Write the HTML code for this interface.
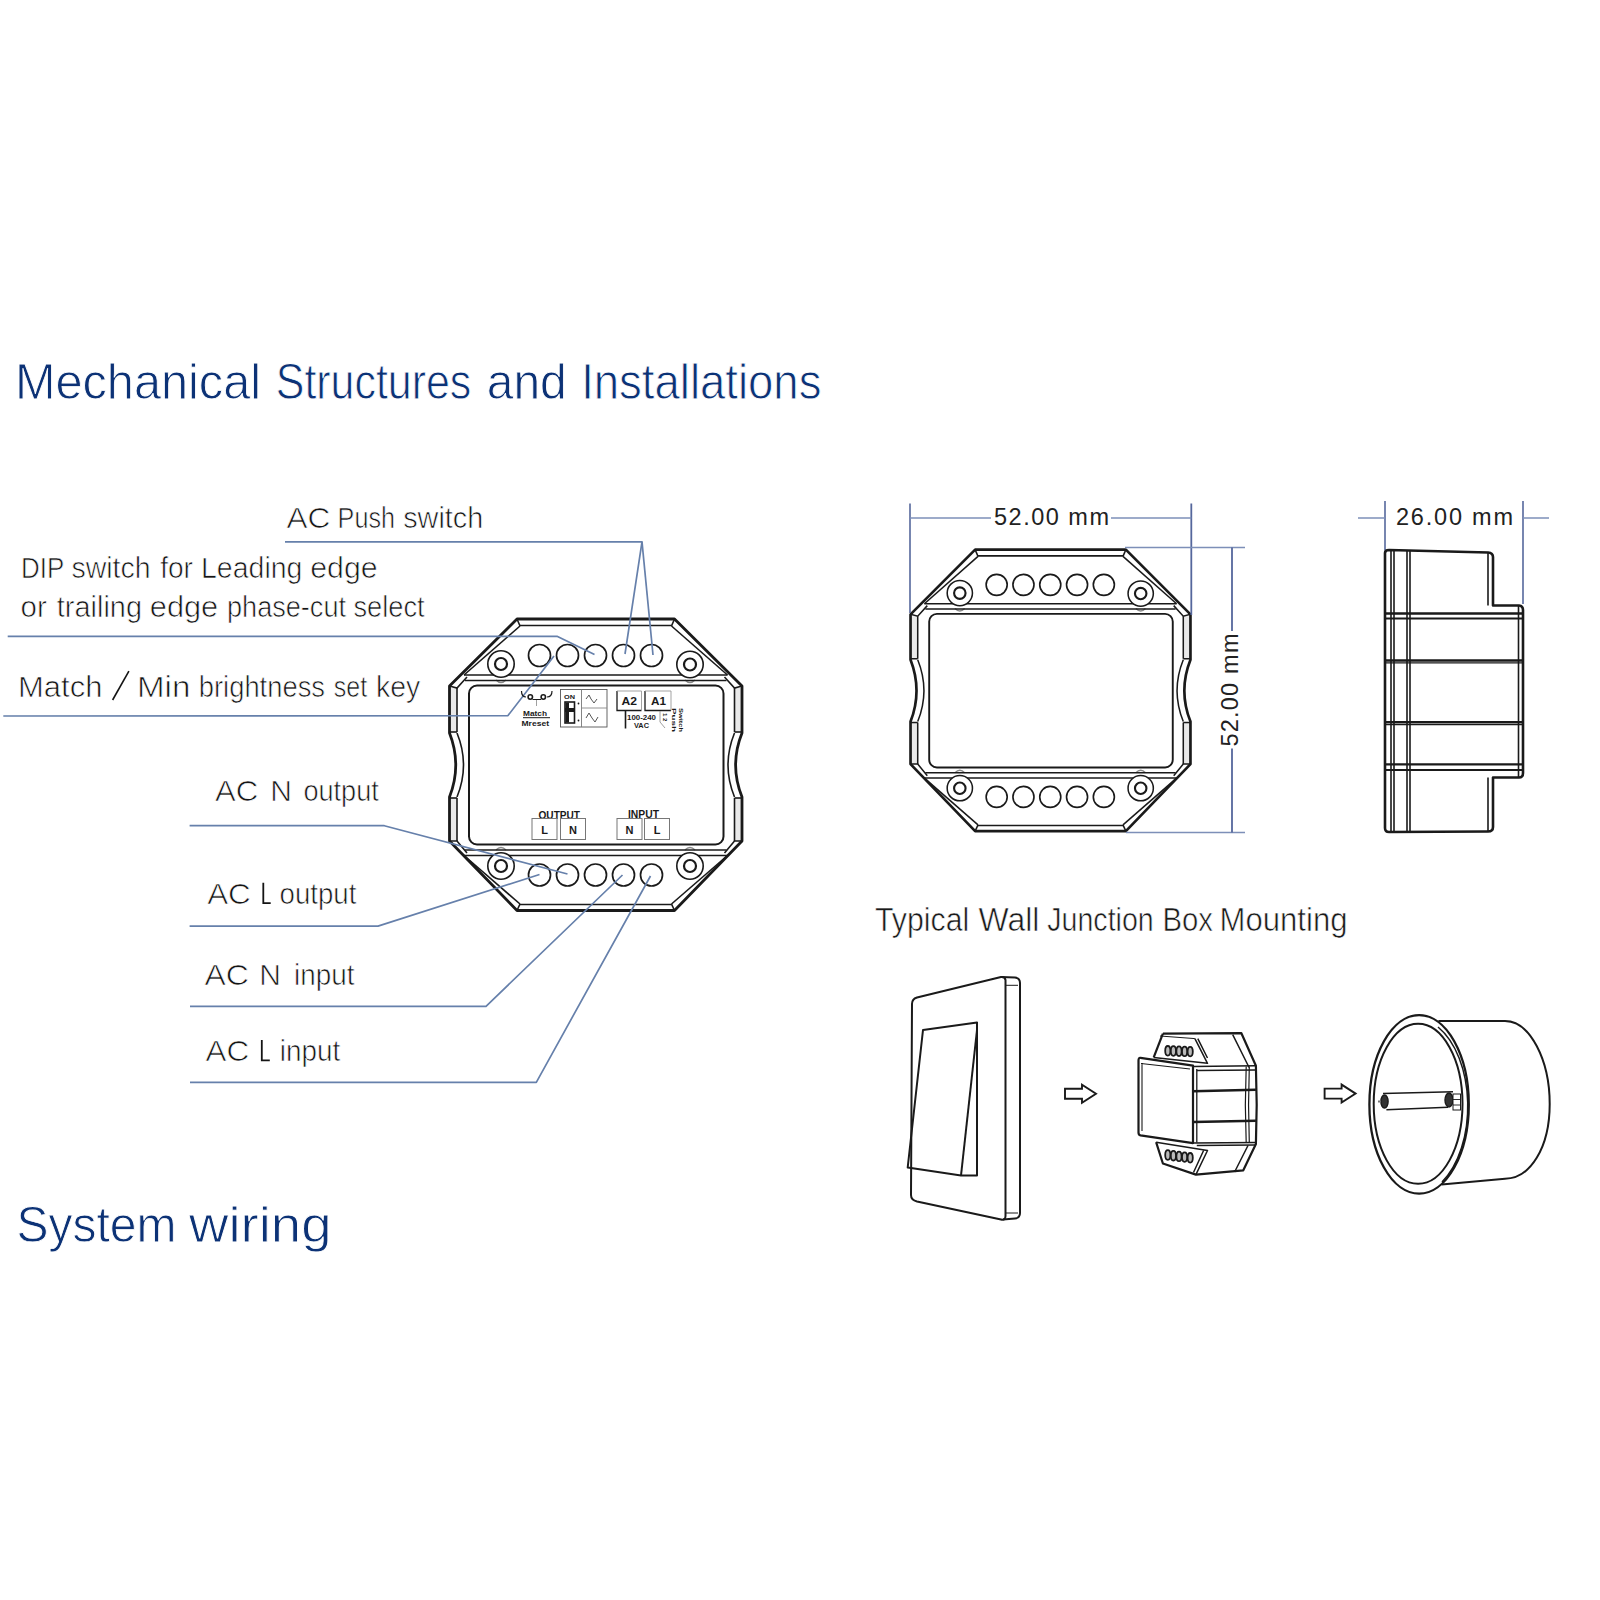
<!DOCTYPE html><html><head><meta charset="utf-8"><style>html,body{margin:0;padding:0;background:#fff;}svg{display:block;font-family:"Liberation Sans",sans-serif;}</style></head><body>
<svg width="1600" height="1600" viewBox="0 0 1600 1600">
<rect width="1600" height="1600" fill="#fff"/>
<text x="14.9" y="398.6" font-size="50" fill="#0c3276" font-weight="normal" textLength="246.2" lengthAdjust="spacingAndGlyphs" stroke="#fff" stroke-width="0.9">Mechanical</text>
<text x="275.8" y="398.6" font-size="50" fill="#0c3276" font-weight="normal" textLength="195.5" lengthAdjust="spacingAndGlyphs" stroke="#fff" stroke-width="0.9">Structures</text>
<text x="486.8" y="398.6" font-size="50" fill="#0c3276" font-weight="normal" textLength="79.9" lengthAdjust="spacingAndGlyphs" stroke="#fff" stroke-width="0.9">and</text>
<text x="581.2" y="398.6" font-size="50" fill="#0c3276" font-weight="normal" textLength="240.2" lengthAdjust="spacingAndGlyphs" stroke="#fff" stroke-width="0.9">Installations</text>
<text x="16.5" y="1242" font-size="50" fill="#0c3276" font-weight="normal" textLength="160" lengthAdjust="spacingAndGlyphs" stroke="#fff" stroke-width="0.9">System</text>
<text x="189" y="1242" font-size="50" fill="#0c3276" font-weight="normal" textLength="142.5" lengthAdjust="spacingAndGlyphs" stroke="#fff" stroke-width="0.9">wiring</text>
<text x="286.6" y="527.6" font-size="30" fill="#141414" font-weight="normal" textLength="43.8" lengthAdjust="spacingAndGlyphs" stroke="#fff" stroke-width="0.7">AC</text>
<text x="337.6" y="527.6" font-size="30" fill="#141414" font-weight="normal" textLength="57.4" lengthAdjust="spacingAndGlyphs" stroke="#fff" stroke-width="0.7">Push</text>
<text x="403.2" y="527.6" font-size="30" fill="#141414" font-weight="normal" textLength="80" lengthAdjust="spacingAndGlyphs" stroke="#fff" stroke-width="0.7">switch</text>
<text x="21" y="578.3" font-size="30" fill="#141414" font-weight="normal" textLength="43.2" lengthAdjust="spacingAndGlyphs" stroke="#fff" stroke-width="0.7">DIP</text>
<text x="71.4" y="578.3" font-size="30" fill="#141414" font-weight="normal" textLength="79.2" lengthAdjust="spacingAndGlyphs" stroke="#fff" stroke-width="0.7">switch</text>
<text x="160.2" y="578.3" font-size="30" fill="#141414" font-weight="normal" textLength="32.8" lengthAdjust="spacingAndGlyphs" stroke="#fff" stroke-width="0.7">for</text>
<text x="201" y="578.3" font-size="30" fill="#141414" font-weight="normal" textLength="101.4" lengthAdjust="spacingAndGlyphs" stroke="#fff" stroke-width="0.7">Leading</text>
<text x="310.2" y="578.3" font-size="30" fill="#141414" font-weight="normal" textLength="67.4" lengthAdjust="spacingAndGlyphs" stroke="#fff" stroke-width="0.7">edge</text>
<text x="20.6" y="617.3" font-size="30" fill="#141414" font-weight="normal" textLength="26.2" lengthAdjust="spacingAndGlyphs" stroke="#fff" stroke-width="0.7">or</text>
<text x="56.8" y="617.3" font-size="30" fill="#141414" font-weight="normal" textLength="85.2" lengthAdjust="spacingAndGlyphs" stroke="#fff" stroke-width="0.7">trailing</text>
<text x="149.8" y="617.3" font-size="30" fill="#141414" font-weight="normal" textLength="68.4" lengthAdjust="spacingAndGlyphs" stroke="#fff" stroke-width="0.7">edge</text>
<text x="227" y="617.3" font-size="30" fill="#141414" font-weight="normal" textLength="119" lengthAdjust="spacingAndGlyphs" stroke="#fff" stroke-width="0.7">phase-cut</text>
<text x="353.4" y="617.3" font-size="30" fill="#141414" font-weight="normal" textLength="71.2" lengthAdjust="spacingAndGlyphs" stroke="#fff" stroke-width="0.7">select</text>
<text x="18" y="696.5" font-size="30" fill="#141414" font-weight="normal" textLength="84.4" lengthAdjust="spacingAndGlyphs" stroke="#fff" stroke-width="0.7">Match</text>
<line x1="112.6" y1="700" x2="128.9" y2="671.2" stroke="#141414" stroke-width="1.6"/>
<text x="137" y="696.5" font-size="30" fill="#141414" font-weight="normal" textLength="53.4" lengthAdjust="spacingAndGlyphs" stroke="#fff" stroke-width="0.7">Min</text>
<text x="198.8" y="696.5" font-size="30" fill="#141414" font-weight="normal" textLength="126.2" lengthAdjust="spacingAndGlyphs" stroke="#fff" stroke-width="0.7">brightness</text>
<text x="333.8" y="696.5" font-size="30" fill="#141414" font-weight="normal" textLength="33.4" lengthAdjust="spacingAndGlyphs" stroke="#fff" stroke-width="0.7">set</text>
<text x="376" y="696.5" font-size="30" fill="#141414" font-weight="normal" textLength="44.2" lengthAdjust="spacingAndGlyphs" stroke="#fff" stroke-width="0.7">key</text>
<text x="215" y="801" font-size="30" fill="#141414" font-weight="normal" textLength="43.2" lengthAdjust="spacingAndGlyphs" stroke="#fff" stroke-width="0.7">AC</text>
<text x="281" y="801" font-size="30" fill="#141414" font-weight="normal" text-anchor="middle" stroke="#fff" stroke-width="0.7">N</text>
<text x="303.4" y="801" font-size="30" fill="#141414" font-weight="normal" textLength="75.4" lengthAdjust="spacingAndGlyphs" stroke="#fff" stroke-width="0.7">output</text>
<text x="207.2" y="904" font-size="30" fill="#141414" font-weight="normal" textLength="43.6" lengthAdjust="spacingAndGlyphs" stroke="#fff" stroke-width="0.7">AC</text>
<path d="M263.3 882.8 V903.1 H270.7" fill="none" stroke="#141414" stroke-width="1.8"/>
<text x="279.6" y="904" font-size="30" fill="#141414" font-weight="normal" textLength="76.8" lengthAdjust="spacingAndGlyphs" stroke="#fff" stroke-width="0.7">output</text>
<text x="204.4" y="984.8" font-size="30" fill="#141414" font-weight="normal" textLength="44.4" lengthAdjust="spacingAndGlyphs" stroke="#fff" stroke-width="0.7">AC</text>
<text x="270.1" y="984.8" font-size="30" fill="#141414" font-weight="normal" text-anchor="middle" stroke="#fff" stroke-width="0.7">N</text>
<text x="294" y="984.8" font-size="30" fill="#141414" font-weight="normal" textLength="60.4" lengthAdjust="spacingAndGlyphs" stroke="#fff" stroke-width="0.7">input</text>
<text x="205.6" y="1061.2" font-size="30" fill="#141414" font-weight="normal" textLength="43.6" lengthAdjust="spacingAndGlyphs" stroke="#fff" stroke-width="0.7">AC</text>
<path d="M261.8 1040 V1060.3 H269.8" fill="none" stroke="#141414" stroke-width="1.8"/>
<text x="279.8" y="1061.2" font-size="30" fill="#141414" font-weight="normal" textLength="60.4" lengthAdjust="spacingAndGlyphs" stroke="#fff" stroke-width="0.7">input</text>
<rect x="449.5" y="688" width="7.5" height="44" fill="#e9e9e9"/>
<rect x="449.5" y="798" width="7.5" height="43" fill="#e9e9e9"/>
<rect x="734.5" y="688" width="7.5" height="44" fill="#e9e9e9"/>
<rect x="734.5" y="798" width="7.5" height="43" fill="#e9e9e9"/>
<path d="M496 680Q501 685 506 680" fill="none" stroke="#888" stroke-width="1.6"/>
<path d="M685 680Q690 685 695 680" fill="none" stroke="#888" stroke-width="1.6"/>
<path d="M496 850Q501 845 506 850" fill="none" stroke="#888" stroke-width="1.6"/>
<path d="M685 850Q690 845 695 850" fill="none" stroke="#888" stroke-width="1.6"/>
<path d="M517 619L674.5 619L742 686L742 733Q729.2 765 742 797L742 841L674.5 910.5L517 910.5L449.5 841L449.5 797Q462 765 449.5 733L449.5 686Z" fill="none" stroke="#1a1a1a" stroke-width="2.8" stroke-linejoin="round"/>
<polyline points="520,625.5 671.5,625.5" fill="none" stroke="#1a1a1a" stroke-width="1.6"/>
<polyline points="520,904.5 671.5,904.5" fill="none" stroke="#1a1a1a" stroke-width="1.6"/>
<polyline points="520,626 464,675" fill="none" stroke="#1a1a1a" stroke-width="1.6"/>
<polyline points="671.5,626 727.5,675" fill="none" stroke="#1a1a1a" stroke-width="1.6"/>
<polyline points="520,904 464,855.5" fill="none" stroke="#1a1a1a" stroke-width="1.6"/>
<polyline points="671.5,904 727.5,855.5" fill="none" stroke="#1a1a1a" stroke-width="1.6"/>
<polyline points="449.5,686 457,688 467,677" fill="none" stroke="#1a1a1a" stroke-width="1.6"/>
<polyline points="742,686 734.5,688 724.5,677" fill="none" stroke="#1a1a1a" stroke-width="1.6"/>
<polyline points="449.5,841 457,841 467,853" fill="none" stroke="#1a1a1a" stroke-width="1.6"/>
<polyline points="742,841 734.5,841 724.5,853" fill="none" stroke="#1a1a1a" stroke-width="1.6"/>
<polyline points="517,619 520,626" fill="none" stroke="#1a1a1a" stroke-width="1.6"/>
<polyline points="674.5,619 671.5,626" fill="none" stroke="#1a1a1a" stroke-width="1.6"/>
<polyline points="517,910.5 520,904" fill="none" stroke="#1a1a1a" stroke-width="1.6"/>
<polyline points="674.5,910.5 671.5,904" fill="none" stroke="#1a1a1a" stroke-width="1.6"/>
<polyline points="457,688 457,732" fill="none" stroke="#1a1a1a" stroke-width="1.6"/>
<polyline points="457,798 457,841" fill="none" stroke="#1a1a1a" stroke-width="1.6"/>
<polyline points="734.5,688 734.5,732" fill="none" stroke="#1a1a1a" stroke-width="1.6"/>
<polyline points="734.5,798 734.5,841" fill="none" stroke="#1a1a1a" stroke-width="1.6"/>
<polyline points="449.5,732 457,732" fill="none" stroke="#1a1a1a" stroke-width="1.6"/>
<polyline points="449.5,798 457,798" fill="none" stroke="#1a1a1a" stroke-width="1.6"/>
<polyline points="742,732 734.5,732" fill="none" stroke="#1a1a1a" stroke-width="1.6"/>
<polyline points="742,798 734.5,798" fill="none" stroke="#1a1a1a" stroke-width="1.6"/>
<polyline points="464,675 727.5,675" fill="none" stroke="#1a1a1a" stroke-width="1.6"/>
<polyline points="465,680.5 726.5,680.5" fill="none" stroke="#1a1a1a" stroke-width="1.6"/>
<polyline points="464,855.5 727.5,855.5" fill="none" stroke="#1a1a1a" stroke-width="1.6"/>
<polyline points="465,850 726.5,850" fill="none" stroke="#1a1a1a" stroke-width="1.6"/>
<path d="M457 733Q470 765 457 797" fill="none" stroke="#1a1a1a" stroke-width="1.6"/>
<path d="M734.5 733Q721.5 765 734.5 797" fill="none" stroke="#1a1a1a" stroke-width="1.6"/>
<rect x="469" y="685.5" width="254.5" height="159" rx="8" fill="none" stroke="#1a1a1a" stroke-width="2"/>
<circle cx="501" cy="664" r="13.2" fill="#fff" stroke="#1a1a1a" stroke-width="1.6"/>
<circle cx="501" cy="664" r="6" fill="none" stroke="#1a1a1a" stroke-width="2.2"/>
<circle cx="690" cy="664.5" r="13.2" fill="#fff" stroke="#1a1a1a" stroke-width="1.6"/>
<circle cx="690" cy="664.5" r="6" fill="none" stroke="#1a1a1a" stroke-width="2.2"/>
<circle cx="501" cy="866" r="13.2" fill="#fff" stroke="#1a1a1a" stroke-width="1.6"/>
<circle cx="501" cy="866" r="6" fill="none" stroke="#1a1a1a" stroke-width="2.2"/>
<circle cx="690" cy="866" r="13.2" fill="#fff" stroke="#1a1a1a" stroke-width="1.6"/>
<circle cx="690" cy="866" r="6" fill="none" stroke="#1a1a1a" stroke-width="2.2"/>
<circle cx="539.5" cy="655.5" r="11" fill="none" stroke="#1a1a1a" stroke-width="1.7"/>
<circle cx="567.5" cy="655.5" r="11" fill="none" stroke="#1a1a1a" stroke-width="1.7"/>
<circle cx="595.5" cy="655.5" r="11" fill="none" stroke="#1a1a1a" stroke-width="1.7"/>
<circle cx="623.5" cy="655.5" r="11" fill="none" stroke="#1a1a1a" stroke-width="1.7"/>
<circle cx="651.5" cy="655.5" r="11" fill="none" stroke="#1a1a1a" stroke-width="1.7"/>
<circle cx="539.5" cy="875" r="11" fill="none" stroke="#1a1a1a" stroke-width="1.7"/>
<circle cx="567.5" cy="875" r="11" fill="none" stroke="#1a1a1a" stroke-width="1.7"/>
<circle cx="595.5" cy="875" r="11" fill="none" stroke="#1a1a1a" stroke-width="1.7"/>
<circle cx="623.5" cy="875" r="11" fill="none" stroke="#1a1a1a" stroke-width="1.7"/>
<circle cx="651.5" cy="875" r="11" fill="none" stroke="#1a1a1a" stroke-width="1.7"/>
<polyline points="285,541.8 642,541.8 625,654" fill="none" stroke="#6680ab" stroke-width="1.7" stroke-linejoin="round"/>
<polyline points="642,541.8 653,655" fill="none" stroke="#6680ab" stroke-width="1.7" stroke-linejoin="round"/>
<polyline points="7.7,636.3 557,636.3 594.5,654.5" fill="none" stroke="#6680ab" stroke-width="1.7" stroke-linejoin="round"/>
<polyline points="3.3,716 508,715.6 554,656" fill="none" stroke="#6680ab" stroke-width="1.7" stroke-linejoin="round"/>
<polyline points="189.6,825.7 384.3,825.7 567.5,874" fill="none" stroke="#6680ab" stroke-width="1.7" stroke-linejoin="round"/>
<polyline points="189.6,926.1 378,926.1 539.5,874.5" fill="none" stroke="#6680ab" stroke-width="1.7" stroke-linejoin="round"/>
<polyline points="190,1006.3 486,1006.3 622.5,875" fill="none" stroke="#6680ab" stroke-width="1.7" stroke-linejoin="round"/>
<polyline points="190,1082.3 536.3,1082.3 650.5,876" fill="none" stroke="#6680ab" stroke-width="1.7" stroke-linejoin="round"/>
<rect x="910.54" y="616.26" width="7.18" height="42.5" fill="#e9e9e9"/>
<rect x="910.54" y="722.52" width="7.18" height="41.54" fill="#e9e9e9"/>
<rect x="1183.28" y="616.26" width="7.18" height="42.5" fill="#e9e9e9"/>
<rect x="1183.28" y="722.52" width="7.18" height="41.54" fill="#e9e9e9"/>
<path d="M955.04 608.53Q959.82 613.36 964.61 608.53" fill="none" stroke="#888" stroke-width="1.53"/>
<path d="M1135.91 608.53Q1140.7 613.36 1145.48 608.53" fill="none" stroke="#888" stroke-width="1.53"/>
<path d="M955.04 772.75Q959.82 767.92 964.61 772.75" fill="none" stroke="#888" stroke-width="1.53"/>
<path d="M1135.91 772.75Q1140.7 767.92 1145.48 772.75" fill="none" stroke="#888" stroke-width="1.53"/>
<path d="M975.14 549.61L1125.86 549.61L1190.46 614.33L1190.46 659.73Q1178.21 690.64 1190.46 721.55L1190.46 764.06L1125.86 831.19L975.14 831.19L910.54 764.06L910.54 721.55Q922.5 690.64 910.54 659.73L910.54 614.33Z" fill="none" stroke="#1a1a1a" stroke-width="2.68" stroke-linejoin="round"/>
<polyline points="978.01,555.88 1122.99,555.88" fill="none" stroke="#1a1a1a" stroke-width="1.53"/>
<polyline points="978.01,825.4 1122.99,825.4" fill="none" stroke="#1a1a1a" stroke-width="1.53"/>
<polyline points="978.01,556.37 924.42,603.7" fill="none" stroke="#1a1a1a" stroke-width="1.53"/>
<polyline points="1122.99,556.37 1176.58,603.7" fill="none" stroke="#1a1a1a" stroke-width="1.53"/>
<polyline points="978.01,824.92 924.42,778.06" fill="none" stroke="#1a1a1a" stroke-width="1.53"/>
<polyline points="1122.99,824.92 1176.58,778.06" fill="none" stroke="#1a1a1a" stroke-width="1.53"/>
<polyline points="910.54,614.33 917.72,616.26 927.29,605.63" fill="none" stroke="#1a1a1a" stroke-width="1.53"/>
<polyline points="1190.46,614.33 1183.28,616.26 1173.71,605.63" fill="none" stroke="#1a1a1a" stroke-width="1.53"/>
<polyline points="910.54,764.06 917.72,764.06 927.29,775.65" fill="none" stroke="#1a1a1a" stroke-width="1.53"/>
<polyline points="1190.46,764.06 1183.28,764.06 1173.71,775.65" fill="none" stroke="#1a1a1a" stroke-width="1.53"/>
<polyline points="975.14,549.61 978.01,556.37" fill="none" stroke="#1a1a1a" stroke-width="1.53"/>
<polyline points="1125.86,549.61 1122.99,556.37" fill="none" stroke="#1a1a1a" stroke-width="1.53"/>
<polyline points="975.14,831.19 978.01,824.92" fill="none" stroke="#1a1a1a" stroke-width="1.53"/>
<polyline points="1125.86,831.19 1122.99,824.92" fill="none" stroke="#1a1a1a" stroke-width="1.53"/>
<polyline points="917.72,616.26 917.72,658.76" fill="none" stroke="#1a1a1a" stroke-width="1.53"/>
<polyline points="917.72,722.52 917.72,764.06" fill="none" stroke="#1a1a1a" stroke-width="1.53"/>
<polyline points="1183.28,616.26 1183.28,658.76" fill="none" stroke="#1a1a1a" stroke-width="1.53"/>
<polyline points="1183.28,722.52 1183.28,764.06" fill="none" stroke="#1a1a1a" stroke-width="1.53"/>
<polyline points="910.54,658.76 917.72,658.76" fill="none" stroke="#1a1a1a" stroke-width="1.53"/>
<polyline points="910.54,722.52 917.72,722.52" fill="none" stroke="#1a1a1a" stroke-width="1.53"/>
<polyline points="1190.46,658.76 1183.28,658.76" fill="none" stroke="#1a1a1a" stroke-width="1.53"/>
<polyline points="1190.46,722.52 1183.28,722.52" fill="none" stroke="#1a1a1a" stroke-width="1.53"/>
<polyline points="924.42,603.7 1176.58,603.7" fill="none" stroke="#1a1a1a" stroke-width="1.53"/>
<polyline points="925.37,609.01 1175.63,609.01" fill="none" stroke="#1a1a1a" stroke-width="1.53"/>
<polyline points="924.42,778.06 1176.58,778.06" fill="none" stroke="#1a1a1a" stroke-width="1.53"/>
<polyline points="925.37,772.75 1175.63,772.75" fill="none" stroke="#1a1a1a" stroke-width="1.53"/>
<path d="M917.72 659.73Q930.16 690.64 917.72 721.55" fill="none" stroke="#1a1a1a" stroke-width="1.53"/>
<path d="M1183.28 659.73Q1170.84 690.64 1183.28 721.55" fill="none" stroke="#1a1a1a" stroke-width="1.53"/>
<rect x="929.2" y="613.84" width="243.56" height="153.59" rx="7.66" fill="none" stroke="#1a1a1a" stroke-width="1.91"/>
<circle cx="959.82" cy="593.08" r="12.63" fill="#fff" stroke="#1a1a1a" stroke-width="1.53"/>
<circle cx="959.82" cy="593.08" r="5.74" fill="none" stroke="#1a1a1a" stroke-width="2.11"/>
<circle cx="1140.7" cy="593.56" r="12.63" fill="#fff" stroke="#1a1a1a" stroke-width="1.53"/>
<circle cx="1140.7" cy="593.56" r="5.74" fill="none" stroke="#1a1a1a" stroke-width="2.11"/>
<circle cx="959.82" cy="788.21" r="12.63" fill="#fff" stroke="#1a1a1a" stroke-width="1.53"/>
<circle cx="959.82" cy="788.21" r="5.74" fill="none" stroke="#1a1a1a" stroke-width="2.11"/>
<circle cx="1140.7" cy="788.21" r="12.63" fill="#fff" stroke="#1a1a1a" stroke-width="1.53"/>
<circle cx="1140.7" cy="788.21" r="5.74" fill="none" stroke="#1a1a1a" stroke-width="2.11"/>
<circle cx="996.67" cy="584.86" r="10.53" fill="none" stroke="#1a1a1a" stroke-width="1.63"/>
<circle cx="1023.46" cy="584.86" r="10.53" fill="none" stroke="#1a1a1a" stroke-width="1.63"/>
<circle cx="1050.26" cy="584.86" r="10.53" fill="none" stroke="#1a1a1a" stroke-width="1.63"/>
<circle cx="1077.06" cy="584.86" r="10.53" fill="none" stroke="#1a1a1a" stroke-width="1.63"/>
<circle cx="1103.85" cy="584.86" r="10.53" fill="none" stroke="#1a1a1a" stroke-width="1.63"/>
<circle cx="996.67" cy="796.9" r="10.53" fill="none" stroke="#1a1a1a" stroke-width="1.63"/>
<circle cx="1023.46" cy="796.9" r="10.53" fill="none" stroke="#1a1a1a" stroke-width="1.63"/>
<circle cx="1050.26" cy="796.9" r="10.53" fill="none" stroke="#1a1a1a" stroke-width="1.63"/>
<circle cx="1077.06" cy="796.9" r="10.53" fill="none" stroke="#1a1a1a" stroke-width="1.63"/>
<circle cx="1103.85" cy="796.9" r="10.53" fill="none" stroke="#1a1a1a" stroke-width="1.63"/>
<line x1="910" y1="503.5" x2="910" y2="613" stroke="#55679c" stroke-width="1.6"/>
<line x1="1191.3" y1="503.5" x2="1191.3" y2="615" stroke="#55679c" stroke-width="1.8"/>
<line x1="910" y1="518" x2="991" y2="518" stroke="#7d8fb8" stroke-width="1.5"/>
<line x1="1111" y1="518" x2="1191.3" y2="518" stroke="#7d8fb8" stroke-width="1.5"/>
<text x="994" y="524.5" font-size="23.5" fill="#222" font-weight="normal" textLength="115" lengthAdjust="spacing" >52.00 mm</text>
<line x1="1125" y1="547.5" x2="1245" y2="547.5" stroke="#7d8fb8" stroke-width="1.5"/>
<line x1="1126" y1="832.5" x2="1245" y2="832.5" stroke="#7d8fb8" stroke-width="1.5"/>
<line x1="1232" y1="547.5" x2="1232" y2="631" stroke="#55679c" stroke-width="1.8"/>
<line x1="1232" y1="748.5" x2="1232" y2="832.5" stroke="#55679c" stroke-width="1.8"/>
<text x="0" y="0" font-size="23.5" fill="#222" textLength="113" lengthAdjust="spacing" transform="translate(1237.5,746.5) rotate(-90)">52.00 mm</text>
<line x1="1385" y1="501" x2="1385" y2="550.5" stroke="#55679c" stroke-width="1.6"/>
<line x1="1523" y1="501" x2="1523" y2="604" stroke="#55679c" stroke-width="1.6"/>
<line x1="1358" y1="518" x2="1385" y2="518" stroke="#7d8fb8" stroke-width="1.5"/>
<line x1="1523" y1="518" x2="1549" y2="518" stroke="#7d8fb8" stroke-width="1.5"/>
<text x="1396" y="524.5" font-size="23.5" fill="#222" font-weight="normal" textLength="117" lengthAdjust="spacing" >26.00 mm</text>
<path d="M1385 553 Q1385 550 1389 550 L1488 552.5 Q1493 553 1493 557 L1493 605.5 L1519 605.5 Q1523 606 1523 610 L1523 773 Q1523 777.5 1519 777.5 L1493 777.5 L1493 827 Q1493 831.5 1488 831.5 L1389 832 Q1385 832 1385 828 Z" fill="none" stroke="#1a1a1a" stroke-width="2.6" stroke-linejoin="round"/>
<line x1="1391" y1="551" x2="1391" y2="831" stroke="#1a1a1a" stroke-width="1.6"/>
<line x1="1394" y1="551" x2="1394" y2="831" stroke="#1a1a1a" stroke-width="1.6"/>
<line x1="1407" y1="551" x2="1407" y2="831" stroke="#1a1a1a" stroke-width="1.6"/>
<line x1="1410" y1="551" x2="1410" y2="831" stroke="#1a1a1a" stroke-width="1.6"/>
<line x1="1488" y1="553" x2="1488" y2="605.5" stroke="#1a1a1a" stroke-width="1.6"/>
<line x1="1488" y1="777.5" x2="1488" y2="831" stroke="#1a1a1a" stroke-width="1.6"/>
<line x1="1518.5" y1="606" x2="1518.5" y2="777" stroke="#1a1a1a" stroke-width="1.6"/>
<line x1="1385" y1="613.5" x2="1523" y2="613.5" stroke="#1a1a1a" stroke-width="2.4"/>
<line x1="1385" y1="618.5" x2="1523" y2="618.5" stroke="#1a1a1a" stroke-width="1.8"/>
<line x1="1385" y1="660.5" x2="1523" y2="660.5" stroke="#1a1a1a" stroke-width="2.4"/>
<line x1="1385" y1="662.8" x2="1523" y2="662.8" stroke="#1a1a1a" stroke-width="1.2"/>
<line x1="1385" y1="722.3" x2="1523" y2="722.3" stroke="#1a1a1a" stroke-width="2.4"/>
<line x1="1385" y1="724.7" x2="1523" y2="724.7" stroke="#1a1a1a" stroke-width="1.2"/>
<line x1="1385" y1="764.3" x2="1523" y2="764.3" stroke="#1a1a1a" stroke-width="2.2"/>
<line x1="1385" y1="770" x2="1523" y2="770" stroke="#1a1a1a" stroke-width="2.0"/>
<text x="875" y="930.5" font-size="33" fill="#1a1a1a" font-weight="normal" textLength="94.25" lengthAdjust="spacingAndGlyphs" stroke="#fff" stroke-width="0.6">Typical</text>
<text x="978.4" y="930.5" font-size="33" fill="#1a1a1a" font-weight="normal" textLength="61" lengthAdjust="spacingAndGlyphs" stroke="#fff" stroke-width="0.6">Wall</text>
<text x="1047.25" y="930.5" font-size="33" fill="#1a1a1a" font-weight="normal" textLength="106.5" lengthAdjust="spacingAndGlyphs" stroke="#fff" stroke-width="0.6">Junction</text>
<text x="1162.5" y="930.5" font-size="33" fill="#1a1a1a" font-weight="normal" textLength="50.5" lengthAdjust="spacingAndGlyphs" stroke="#fff" stroke-width="0.6">Box</text>
<text x="1219.5" y="930.5" font-size="33" fill="#1a1a1a" font-weight="normal" textLength="128" lengthAdjust="spacingAndGlyphs" stroke="#fff" stroke-width="0.6">Mounting</text>
<path d="M912 1004 Q912 999 917 997.5 L1001 977 Q1005 976.5 1005.5 980 L1005.5 1216 Q1005.5 1220.5 1001 1219.5 L917 1201.5 Q911 1200 911 1195 Z" fill="none" stroke="#1a1a1a" stroke-width="2.0" stroke-linejoin="round"/>
<path d="M1001 977 L1015 977.5 Q1020 978 1020 983 L1020 1213 Q1020 1218 1015 1218.5 L1003 1219.5" fill="none" stroke="#1a1a1a" stroke-width="2.0"/>
<line x1="1006" y1="985.3" x2="1018" y2="985.3" stroke="#1a1a1a" stroke-width="1.0"/>
<line x1="1006" y1="1213" x2="1018" y2="1213" stroke="#1a1a1a" stroke-width="1.0"/>
<path d="M923 1030 L977 1022.5 L977 1175.5 L961 1175.5 L907.7 1167.5 Z" fill="none" stroke="#1a1a1a" stroke-width="2.0" stroke-linejoin="round"/>
<path d="M977 1030 L961 1175.5" fill="none" stroke="#1a1a1a" stroke-width="2.0"/>
<path d="M1065 1088.7 L1082 1088.7 L1082 1084.7 L1096 1093.7 L1082 1102.7 L1082 1098.7 L1065 1098.7 Z" fill="#fff" stroke="#1a1a1a" stroke-width="1.9" stroke-linejoin="miter"/>
<path d="M1324.6 1088.6 L1341.6 1088.6 L1341.6 1084.6 L1355.6 1093.6 L1341.6 1102.6 L1341.6 1098.6 L1324.6 1098.6 Z" fill="#fff" stroke="#1a1a1a" stroke-width="1.9" stroke-linejoin="miter"/>
<path d="M1162.9 1033.7 L1241.4 1033.2 L1255.9 1065.7 Q1257.5 1105 1255.9 1144.1 L1243.3 1170.3 L1195.9 1174.6 L1162.9 1163.5 L1156.1 1142.2" fill="none" stroke="#1a1a1a" stroke-width="2.2" stroke-linejoin="round"/>
<path d="M1153.7 1057.4 L1162.9 1033.7" fill="none" stroke="#1a1a1a" stroke-width="2.2"/>
<path d="M1153.7 1057.4 L1207.5 1063.3 L1194.9 1038.6 M1197.8 1038.6 L1207.5 1058" fill="none" stroke="#1a1a1a" stroke-width="1.5" stroke-linejoin="round"/>
<path d="M1160 1036 L1194.9 1038.6" fill="none" stroke="#1a1a1a" stroke-width="1.0"/>
<path d="M1140.5 1057.8 L1193 1065.7 L1193 1143.1 L1140.5 1135.4 Q1138.5 1135 1138.5 1132.5 L1138.5 1060.5 Q1138.5 1057.5 1140.5 1057.8 Z" fill="#fff" stroke="#1a1a1a" stroke-width="2.2" stroke-linejoin="round"/>
<path d="M1141 1063.5 L1190 1069 M1142 1063 L1142 1131" fill="none" stroke="#1a1a1a" stroke-width="1.1"/>
<path d="M1196.8 1069 L1196.8 1142.5" fill="none" stroke="#1a1a1a" stroke-width="1.3"/>
<path d="M1193 1066.6 L1255.9 1065.7 M1196.8 1070.5 L1255 1070" fill="none" stroke="#1a1a1a" stroke-width="1.5"/>
<path d="M1193 1091.3 L1255.9 1089.8 M1193 1122 L1255.9 1120.8" fill="none" stroke="#1a1a1a" stroke-width="2.4"/>
<path d="M1193 1143.1 L1255.9 1142.4 M1196.8 1145.5 L1255 1145" fill="none" stroke="#1a1a1a" stroke-width="1.5"/>
<path d="M1246.2 1066.5 Q1244.5 1105 1246.2 1143 M1249.3 1066.5 Q1247.8 1105 1249.3 1143" fill="none" stroke="#1a1a1a" stroke-width="1.2"/>
<path d="M1232.7 1034.7 L1249.1 1067.5 M1234.6 1172 L1248 1145.5" fill="none" stroke="#1a1a1a" stroke-width="1.5"/>
<path d="M1156.1 1142.2 L1207.5 1150.5 L1195.9 1174.6 M1203.8 1150 L1193.5 1172.5" fill="none" stroke="#1a1a1a" stroke-width="1.5" stroke-linejoin="round"/>
<ellipse cx="1167.8" cy="1050.8" rx="2.6" ry="4.8" fill="#bbb" stroke="#1a1a1a" stroke-width="1.8"/>
<ellipse cx="1167.8" cy="1155" rx="2.6" ry="4.8" fill="#bbb" stroke="#1a1a1a" stroke-width="1.8"/>
<ellipse cx="1173.4" cy="1051" rx="2.6" ry="4.8" fill="#bbb" stroke="#1a1a1a" stroke-width="1.8"/>
<ellipse cx="1173.4" cy="1155.7" rx="2.6" ry="4.8" fill="#bbb" stroke="#1a1a1a" stroke-width="1.8"/>
<ellipse cx="1179" cy="1051.2" rx="2.6" ry="4.8" fill="#bbb" stroke="#1a1a1a" stroke-width="1.8"/>
<ellipse cx="1179" cy="1156.4" rx="2.6" ry="4.8" fill="#bbb" stroke="#1a1a1a" stroke-width="1.8"/>
<ellipse cx="1184.6" cy="1051.4" rx="2.6" ry="4.8" fill="#bbb" stroke="#1a1a1a" stroke-width="1.8"/>
<ellipse cx="1184.6" cy="1157.1" rx="2.6" ry="4.8" fill="#bbb" stroke="#1a1a1a" stroke-width="1.8"/>
<ellipse cx="1190.2" cy="1051.6" rx="2.6" ry="4.8" fill="#bbb" stroke="#1a1a1a" stroke-width="1.8"/>
<ellipse cx="1190.2" cy="1157.8" rx="2.6" ry="4.8" fill="#bbb" stroke="#1a1a1a" stroke-width="1.8"/>
<path d="M1438.4 1021.1 L1505 1021.1 C1530 1021.1 1549.7 1060 1549.7 1104 C1549.7 1148 1530 1178.7 1505 1178.7 L1441.6 1184.4" fill="none" stroke="#1a1a1a" stroke-width="2.0"/>
<ellipse cx="1419.1" cy="1104.4" rx="49.7" ry="89.3" fill="#fff" stroke="#1a1a1a" stroke-width="2.3"/>
<ellipse cx="1418.1" cy="1103.8" rx="44.4" ry="80" fill="none" stroke="#1a1a1a" stroke-width="2.0"/>
<path d="M1438 1027 A53.5 88.5 0 0 1 1442 1182" fill="none" stroke="#1a1a1a" stroke-width="1.5"/>
<path d="M1383 1093.4 L1453 1091.8 M1386.4 1109.7 L1448 1107.2" fill="none" stroke="#1a1a1a" stroke-width="1.5"/>
<ellipse cx="1384.5" cy="1101.5" rx="3.6" ry="6.5" fill="#333" stroke="#1a1a1a" stroke-width="1.4"/>
<ellipse cx="1449" cy="1100" rx="4" ry="7" fill="#333" stroke="#1a1a1a" stroke-width="1.4"/>
<path d="M1378 1101.5 L1381 1101.5" fill="none" stroke="#777" stroke-width="2"/>
<rect x="1453" y="1094" width="7.5" height="16" fill="#fff" stroke="#1a1a1a" stroke-width="1.0"/>
<path d="M1453 1099.5 L1460.5 1099.5 M1453 1105 L1460.5 1105" fill="none" stroke="#1a1a1a" stroke-width="0.9"/>
<path d="M521.5 691 Q521.5 697 526 697 M547 697 Q552 697 552 691" fill="none" stroke="#1a1a1a" stroke-width="1.2"/>
<circle cx="530.3" cy="697" r="2.2" fill="none" stroke="#1a1a1a" stroke-width="1.6"/>
<circle cx="543.3" cy="697" r="2.2" fill="none" stroke="#1a1a1a" stroke-width="1.6"/>
<line x1="532.5" y1="699.5" x2="541" y2="699.5" stroke="#1a1a1a" stroke-width="1.0"/>
<line x1="536.5" y1="700" x2="536.5" y2="706" stroke="#888" stroke-width="0.8"/>
<text x="523" y="715.5" font-size="7.5" fill="#1a1a1a" font-weight="bold" textLength="24" lengthAdjust="spacingAndGlyphs" >Match</text>
<line x1="523" y1="717.7" x2="550" y2="717.7" stroke="#1a1a1a" stroke-width="1.0"/>
<text x="521.5" y="725.5" font-size="7.5" fill="#1a1a1a" font-weight="bold" textLength="27.5" lengthAdjust="spacingAndGlyphs" >Mreset</text>
<rect x="560.5" y="689.5" width="46.5" height="37.5" fill="none" stroke="#555" stroke-width="0.9"/>
<line x1="581.5" y1="689.5" x2="581.5" y2="727" stroke="#777" stroke-width="0.9"/>
<line x1="581.5" y1="708" x2="607" y2="708" stroke="#888" stroke-width="0.9"/>
<text x="564" y="698.5" font-size="6" fill="#1a1a1a" font-weight="bold" textLength="11" lengthAdjust="spacingAndGlyphs" >ON</text>
<rect x="565" y="702" width="9.5" height="21" fill="none" stroke="#1a1a1a" stroke-width="1.6"/>
<rect x="565.5" y="702.5" width="3.5" height="20" fill="#1a1a1a"/>
<rect x="565" y="708" width="9" height="4" fill="#1a1a1a"/>
<circle cx="578.5" cy="703.5" r="0.9" fill="#1a1a1a"/><circle cx="578.5" cy="720.5" r="0.9" fill="#1a1a1a"/>
<path d="M586 699 L589 695 L591 699 L594 703 L597 699" fill="none" stroke="#555" stroke-width="1.0"/>
<path d="M586 718 L589 713 L592 718 L595 722 L598 717" fill="none" stroke="#555" stroke-width="1.0"/>
<path d="M617 691 L617 710.5 L641.5 710.5" fill="none" stroke="#1a1a1a" stroke-width="1.3"/>
<path d="M617 691 L641.5 691 L641.5 710.5" fill="none" stroke="#999" stroke-width="0.9"/>
<path d="M645 691 L645 710.5 L671 710.5" fill="none" stroke="#1a1a1a" stroke-width="1.3"/>
<path d="M645 691 L671 691 L671 710.5" fill="none" stroke="#999" stroke-width="0.9"/>
<text x="621.5" y="704.5" font-size="11.5" fill="#1a1a1a" font-weight="bold" textLength="15.5" lengthAdjust="spacingAndGlyphs" >A2</text>
<text x="651" y="704.5" font-size="11.5" fill="#1a1a1a" font-weight="bold" textLength="15" lengthAdjust="spacingAndGlyphs" >A1</text>
<line x1="625.5" y1="710.5" x2="625.5" y2="728.5" stroke="#1a1a1a" stroke-width="1.6"/>
<text x="627" y="720" font-size="6.5" fill="#1a1a1a" font-weight="bold" textLength="29" lengthAdjust="spacingAndGlyphs" >100-240</text>
<text x="634" y="728" font-size="6.5" fill="#1a1a1a" font-weight="bold" textLength="15" lengthAdjust="spacingAndGlyphs" >VAC</text>
<path d="M660 711 L660 722 L665 728" fill="none" stroke="#888" stroke-width="0.8"/>
<text x="0" y="0" font-size="6" font-weight="bold" fill="#1a1a1a" transform="translate(663,713) rotate(90)">1 2</text>
<text x="0" y="0" font-size="6" font-weight="bold" fill="#1a1a1a" transform="translate(672,708) rotate(90)" textLength="24" lengthAdjust="spacingAndGlyphs">Push</text>
<text x="0" y="0" font-size="6" font-weight="bold" fill="#1a1a1a" transform="translate(679,708) rotate(90)" textLength="24" lengthAdjust="spacingAndGlyphs">Switch</text>
<text x="538.5" y="818.5" font-size="10" fill="#1a1a1a" font-weight="bold" textLength="41.5" lengthAdjust="spacingAndGlyphs" >OUTPUT</text>
<text x="628" y="818" font-size="10" fill="#1a1a1a" font-weight="bold" textLength="31" lengthAdjust="spacingAndGlyphs" >INPUT</text>
<rect x="532" y="818.5" width="25" height="21" fill="none" stroke="#777" stroke-width="1.0"/>
<text x="544.5" y="834" font-size="11" fill="#1a1a1a" font-weight="bold" text-anchor="middle" >L</text>
<rect x="560.5" y="818.5" width="25" height="21" fill="none" stroke="#777" stroke-width="1.0"/>
<text x="573" y="834" font-size="11" fill="#1a1a1a" font-weight="bold" text-anchor="middle" >N</text>
<rect x="617" y="818.5" width="25" height="21" fill="none" stroke="#777" stroke-width="1.0"/>
<text x="629.5" y="834" font-size="11" fill="#1a1a1a" font-weight="bold" text-anchor="middle" >N</text>
<rect x="644.5" y="818.5" width="25" height="21" fill="none" stroke="#777" stroke-width="1.0"/>
<text x="657" y="834" font-size="11" fill="#1a1a1a" font-weight="bold" text-anchor="middle" >L</text>
</svg></body></html>
